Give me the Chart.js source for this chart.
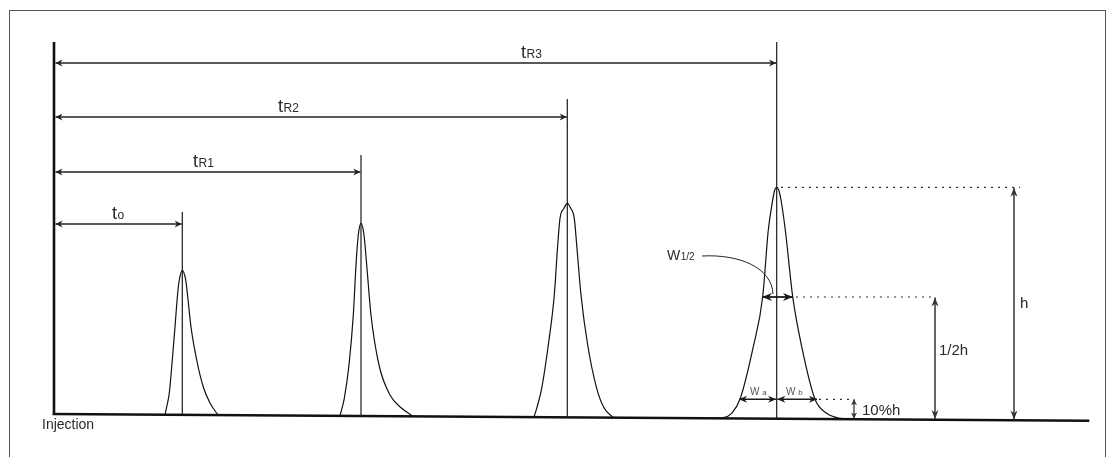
<!DOCTYPE html>
<html>
<head>
<meta charset="utf-8">
<script src="https://cdn.jsdelivr.net/npm/chart.js@4"></script>
<style>
  html, body { margin: 0; padding: 0; background: #fff; }
  #wrap { width: 1108px; height: 457px; position: relative; }
</style>
</head>
<body>
<div id="wrap"><canvas id="chromChart"></canvas></div>
<script>
// chromatogram: time in min, signal in mV
const peakSubs = ['o', 'R1', 'R2', 'R3'];
const retentionTimes = [12.83, 30.7, 51.33, 72.27];
const markerTops = [20.2, 25.9, 31.5, 37.2];
const markerBottoms = [-0.08, -0.19, -0.32, -0.45];
const arrowLevels = [19.0, 24.2, 29.7, 35.1];

const baselineTime = [0, 103.4];
const baselineSignal = [0, -0.68];
const axisTime = [0, 0];
const axisSignal = [-0.1, 37.2];

const peak0Time = [11.10, 11.27, 11.53, 11.83, 12.10, 12.37, 12.53, 12.83, 13.17, 13.33, 13.70, 14.27, 14.93, 15.60, 16.40];
const peak0Signal = [-0.07, 0.70, 2.10, 5.40, 8.70, 12.10, 13.40, 14.33, 13.40, 12.10, 8.70, 5.40, 2.70, 1.10, -0.10];
const peak1Time = [28.60, 29.03, 29.50, 29.93, 30.20, 30.43, 30.70, 31.00, 31.27, 31.70, 32.50, 33.60, 34.77, 35.90];
const peak1Signal = [-0.18, 1.57, 4.90, 9.90, 14.90, 17.90, 19.07, 17.90, 14.90, 9.90, 4.90, 1.90, 0.57, -0.22];
const peak2Time = [48.00, 48.27, 48.77, 49.43, 50.03, 50.37, 50.60, 51.00, 51.33, 51.67, 52.03, 52.27, 52.70, 53.37, 54.27, 55.03, 55.93];
const peak2Signal = [-0.30, 0.57, 2.57, 6.90, 11.90, 16.90, 19.57, 20.57, 21.07, 20.57, 19.57, 16.90, 11.90, 6.90, 2.57, 0.57, -0.35];
const peak3Time = [65.90, 66.93, 67.77, 68.60, 69.93, 70.87, 71.43, 71.87, 72.07, 72.27, 72.47, 72.70, 73.13, 73.87, 74.77, 76.10, 77.27, 78.60, 79.60];
const peak3Signal = [-0.45, -0.37, 0.07, 1.47, 6.73, 11.73, 18.40, 21.40, 22.40, 22.67, 22.40, 21.40, 18.40, 11.73, 6.73, 1.47, 0.07, -0.43, -0.50];

// width readings on the last peak
const widthLevels = [11.7, 1.47];      // half height, 10% height
const halfWidthEdges = [70.8, 73.9];
const baseWidthEdges = [68.5, 76.3];

function buildPoints(xs, ys) {
    return xs.map((v, i) => ({ x: v, y: ys[i] }));
}

function arrowHead(ctx, x, y, angle, len, half) {
    ctx.save();
    ctx.translate(x, y);
    ctx.rotate(angle);
    ctx.beginPath();
    ctx.moveTo(0, 0);
    ctx.lineTo(-len, -half);
    ctx.lineTo(-len * 0.7, 0);
    ctx.lineTo(-len, half);
    ctx.closePath();
    ctx.fill();
    ctx.restore();
}

// line with arrow heads on both ends
function dimLine(ctx, x1, y1, x2, y2, len, half, width, color) {
    ctx.strokeStyle = color;
    ctx.fillStyle = color;
    ctx.lineWidth = width;
    ctx.setLineDash([]);
    ctx.beginPath();
    ctx.moveTo(x1, y1);
    ctx.lineTo(x2, y2);
    ctx.stroke();
    const a = Math.atan2(y2 - y1, x2 - x1);
    arrowHead(ctx, x2, y2, a, len, half);
    arrowHead(ctx, x1, y1, a + Math.PI, len, half);
}

function dotted(ctx, x1, x2, y) {
    ctx.strokeStyle = '#333';
    ctx.lineWidth = 1.2;
    ctx.setLineDash([2, 5]);
    ctx.beginPath();
    ctx.moveTo(x1, y);
    ctx.lineTo(x2, y);
    ctx.stroke();
    ctx.setLineDash([]);
}

function subText(ctx, main, sub, x, y, size, subSize, color) {
    ctx.fillStyle = color;
    ctx.textBaseline = 'alphabetic';
    ctx.textAlign = 'left';
    ctx.font = size + 'px "Liberation Sans", Arial, sans-serif';
    ctx.fillText(main, x, y);
    const w = ctx.measureText(main).width;
    ctx.font = subSize + 'px "Liberation Sans", Arial, sans-serif';
    ctx.fillText(sub, x + w + 0.5, y);
}

function plainText(ctx, txt, x, y, size, color) {
    ctx.fillStyle = color;
    ctx.textBaseline = 'alphabetic';
    ctx.textAlign = 'left';
    ctx.font = size + 'px "Liberation Sans", Arial, sans-serif';
    ctx.fillText(txt, x, y);
}

const annotations = {
    id: 'annotations',
    afterDatasetsDraw(chart) {
        const ctx = chart.ctx;
        const X = v => chart.scales.x.getPixelForValue(v);
        const Y = v => chart.scales.y.getPixelForValue(v);
        ctx.save();

        // frame
        ctx.strokeStyle = '#555';
        ctx.lineWidth = 1;
        ctx.strokeRect(9.5, 10.5, 1096, 470);

        // retention time arrows
        const labelX = [5.8, 13.9, 22.4, 46.7];
        retentionTimes.forEach((t, i) => {
            const yy = Y(arrowLevels[i]);
            dimLine(ctx, X(0) + 1.5, yy, X(t) - 0.6, yy, 7, 3.5, 1.3, '#222');
            subText(ctx, 't', peakSubs[i], X(labelX[i]), yy - 5, 18, 12, '#2a2a2a');
        });

        const apex = Math.max(...peak3Signal);
        const tR3 = retentionTimes[3];

        // dotted guides
        dotted(ctx, X(72.7), X(96.6), Y(apex));
        dotted(ctx, X(74.2), X(88.1), Y(widthLevels[0]));
        dotted(ctx, X(76.5), X(79.8), Y(widthLevels[1]));

        // height arrows
        dimLine(ctx, X(96.0), Y(apex) + 0.5, X(96.0), Y(-0.6) - 0.5, 9, 3.5, 1.5, '#333');
        dimLine(ctx, X(88.1), Y(widthLevels[0]) + 0.5, X(88.1), Y(-0.56) - 0.5, 9, 3.5, 1.5, '#333');
        dimLine(ctx, X(80.0), Y(widthLevels[1]), X(80.0), Y(-0.5) - 0.5, 6, 3, 1.3, '#333');

        // width arrows
        dimLine(ctx, X(halfWidthEdges[0]), Y(widthLevels[0]), X(halfWidthEdges[1]), Y(widthLevels[0]), 10, 4, 1.8, '#1a1a1a');
        dimLine(ctx, X(baseWidthEdges[0]), Y(widthLevels[1]), X(tR3) - 0.6, Y(widthLevels[1]), 8, 3.5, 1.5, '#1a1a1a');
        dimLine(ctx, X(tR3) + 0.6, Y(widthLevels[1]), X(baseWidthEdges[1]), Y(widthLevels[1]), 8, 3.5, 1.5, '#1a1a1a');

        // W1/2 leader
        ctx.strokeStyle = '#222';
        ctx.lineWidth = 1;
        ctx.beginPath();
        ctx.moveTo(X(64.8), Y(15.8));
        ctx.bezierCurveTo(X(68.6), Y(16.0), X(71.8), Y(14.6), X(71.9), Y(12.0));
        ctx.stroke();

        // labels
        subText(ctx, 'W', '1/2', X(61.3), Y(15.4), 14, 10, '#2a2a2a');
        subText(ctx, 'W', ' a', X(69.6), Y(1.9), 10, 8, '#555');
        subText(ctx, 'W', ' b', X(73.2), Y(1.9), 10, 8, '#555');
        plainText(ctx, 'h', X(96.6), Y(10.6), 15, '#2a2a2a');
        plainText(ctx, '1/2h', X(88.5), Y(5.9), 15, '#2a2a2a');
        plainText(ctx, '10%h', X(80.8), Y(-0.1), 15, '#2a2a2a');
        plainText(ctx, 'Injection', X(-1.2), Y(-1.5), 14, '#2a2a2a');

        ctx.restore();
    }
};

const lineStyle = {
    pointRadius: 0,
    fill: false,
    borderColor: '#111',
    borderWidth: 1.2,
    cubicInterpolationMode: 'monotone'
};

const peakSets = [
    [peak0Time, peak0Signal],
    [peak1Time, peak1Signal],
    [peak2Time, peak2Signal],
    [peak3Time, peak3Signal]
];

const ctx = document.getElementById('chromChart').getContext('2d');
const chromChart = new Chart(ctx, {
    type: 'line',
    data: {
        datasets: [
            { label: 'baseline', data: buildPoints(baselineTime, baselineSignal), borderColor: '#111', borderWidth: 2.6, pointRadius: 0, borderCapStyle: 'square' },
            { label: 'axis', data: buildPoints(axisTime, axisSignal), borderColor: '#111', borderWidth: 2.6, pointRadius: 0 },
            ...peakSets.map((p, i) => ({ label: 'peak ' + i, data: buildPoints(p[0], p[1]), ...lineStyle })),
            ...retentionTimes.map((t, i) => ({
                label: 'marker ' + i,
                data: [{ x: t, y: markerBottoms[i] }, { x: t, y: markerTops[i] }],
                borderColor: '#1a1a1a',
                borderWidth: 1.2,
                pointRadius: 0
            }))
        ]
    },
    options: {
        responsive: true,
        maintainAspectRatio: false,
        animation: false,
        layout: { padding: 0 },
        plugins: {
            legend: { display: false },
            tooltip: { enabled: false }
        },
        scales: {
            x: { type: 'linear', min: -5.4, max: 105.4, display: false },
            y: { type: 'linear', min: -4.3, max: 41.4, display: false }
        }
    },
    plugins: [annotations]
});
</script>
</body>
</html>
